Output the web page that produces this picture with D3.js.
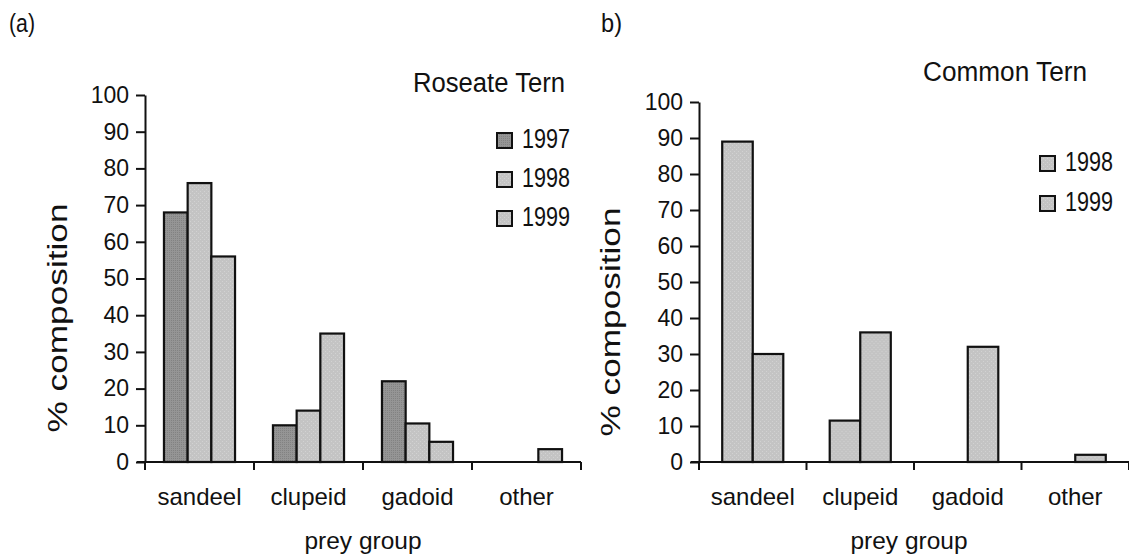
<!DOCTYPE html>
<html>
<head>
<meta charset="utf-8">
<script src="https://cdn.jsdelivr.net/npm/d3@7"></script>
<style>
  html, body { margin: 0; padding: 0; background: #fff; }
  svg { display: block; font-family: "Liberation Sans", Arial, sans-serif; }
</style>
</head>
<body>
<svg id="chart" width="1129" height="556"></svg>
<script>
// Diet composition of tern chicks by prey group
const categories = ["sandeel", "clupeid", "gadoid", "other"];
const yTicks = [0, 10, 20, 30, 40, 50, 60, 70, 80, 90, 100];

// Panel (a): Roseate Tern
const roseateYears = ["1997", "1998", "1999"];
const roseate1997 = [68, 10, 22, 0];
const roseate1998 = [76, 14, 10.5, 0];
const roseate1999 = [56, 35, 5.5, 3.5];

// Panel (b): Common Tern
const commonYears = ["1998", "1999"];
const common1998 = [89, 11.5, 0, 0];
const common1999 = [30, 36, 32, 2];

const svg = d3.select("#chart");
const defs = svg.append("defs");

// Hatched fills for the bars
function addPattern(id, base, mark, kind) {
  const p = defs.append("pattern")
    .attr("id", id).attr("patternUnits", "userSpaceOnUse")
    .attr("width", 4).attr("height", 4);
  p.append("rect").attr("width", 4).attr("height", 4).attr("fill", base);
  if (kind === "cross") {
    p.append("path").attr("d", "M0,0h1v1h-1zM2,2h1v1h-1zM2,0h1v1h-1zM0,2h1v1h-1z").attr("fill", mark);
  } else {
    p.append("path").attr("d", "M1,1h1v1h-1zM3,3h1v1h-1z").attr("fill", mark);
  }
}
addPattern("fillDark", "#959595", "#828282", "cross");
addPattern("fillLight", "#c4c4c4", "#d2d2d2", "dots");

const fillFor = { "1997": "url(#fillDark)", "1998": "url(#fillLight)", "1999": "url(#fillLight)" };

function drawPanel(opts) {
  const g = svg.append("g");
  const x0 = d3.scaleBand().domain(categories).range(opts.xRange).padding(0);
  const x1 = d3.scaleBand().domain(opts.years).range([0, x0.bandwidth()])
    .paddingInner(0).paddingOuter(opts.outerPad);
  const y = d3.scaleLinear().domain([0, 100]).range(opts.yRange);

  const rows = categories.map((c, i) => ({
    cat: c,
    vals: opts.years.map((yr, j) => ({ year: yr, value: opts.series[j][i] }))
  }));

  // bars
  g.selectAll("g.grp").data(rows).join("g")
    .attr("class", "grp")
    .attr("transform", d => `translate(${x0(d.cat)},0)`)
    .selectAll("rect").data(d => d.vals.filter(v => v.value > 0)).join("rect")
    .attr("x", d => x1(d.year))
    .attr("width", x1.bandwidth())
    .attr("y", d => y(d.value))
    .attr("height", d => y(0) - y(d.value))
    .attr("fill", d => fillFor[d.year])
    .attr("stroke", "#111")
    .attr("stroke-width", 2.2);

  // y axis
  const yAxis = g.append("g")
    .attr("transform", `translate(${opts.xRange[0]},0)`)
    .call(d3.axisLeft(y).tickValues(yTicks).tickSize(9).tickSizeOuter(0).tickPadding(7));
  yAxis.select(".domain").attr("stroke", "#111").attr("stroke-width", 2);
  yAxis.selectAll(".tick line").attr("stroke", "#111").attr("stroke-width", 2);
  yAxis.selectAll(".tick text").attr("font-size", 23).attr("fill", "#111")
    .attr("font-family", "'Liberation Sans', Arial, sans-serif");

  // x axis: boundary ticks and category labels
  const xAxis = g.append("g")
    .attr("transform", `translate(0,${y(0)})`)
    .call(d3.axisBottom(x0).tickSize(0).tickPadding(26));
  xAxis.select(".domain").remove();
  xAxis.selectAll(".tick text").attr("font-size", 24).attr("fill", "#111")
    .attr("font-family", "'Liberation Sans', Arial, sans-serif");
  g.append("line")
    .attr("x1", opts.xRange[0] - 8).attr("x2", opts.xRange[1])
    .attr("y1", y(0)).attr("y2", y(0))
    .attr("stroke", "#111").attr("stroke-width", 2);
  const bounds = categories.map(c => x0(c)).concat([opts.xRange[1]]);
  g.selectAll("line.xt").data(bounds).join("line")
    .attr("class", "xt")
    .attr("x1", d => d).attr("x2", d => d)
    .attr("y1", y(0)).attr("y2", y(0) + 8)
    .attr("stroke", "#111").attr("stroke-width", 2);

  // axis titles
  g.append("text")
    .attr("x", (opts.xRange[0] + opts.xRange[1]) / 2 + opts.xTitleShift)
    .attr("y", 549)
    .attr("text-anchor", "middle")
    .attr("font-size", 24).attr("fill", "#111")
    .attr("textLength", 117).attr("lengthAdjust", "spacingAndGlyphs")
    .text("prey group");
  g.append("text")
    .attr("transform", `translate(${opts.yTitleX},${opts.yTitleY}) rotate(-90)`)
    .attr("text-anchor", "middle")
    .attr("font-size", 27).attr("fill", "#111")
    .attr("textLength", 229).attr("lengthAdjust", "spacingAndGlyphs")
    .text("% composition");

  // panel title
  g.append("text")
    .attr("x", opts.titleX).attr("y", opts.titleY)
    .attr("font-size", 27).attr("fill", "#111")
    .attr("textLength", opts.titleLen).attr("lengthAdjust", "spacingAndGlyphs")
    .text(opts.title);

  // legend
  const leg = g.selectAll("g.leg").data(opts.years).join("g")
    .attr("class", "leg")
    .attr("transform", (d, i) => `translate(${opts.legX},${opts.legY + i * opts.legStep})`);
  leg.append("rect")
    .attr("x", 0).attr("y", -15).attr("width", 15).attr("height", 15)
    .attr("fill", d => fillFor[d])
    .attr("stroke", "#111").attr("stroke-width", 2);
  leg.append("text")
    .attr("x", 25).attr("y", 0)
    .attr("font-size", 27).attr("fill", "#111")
    .attr("textLength", 48).attr("lengthAdjust", "spacingAndGlyphs")
    .text(d => d);

  // panel tag
  g.append("text")
    .attr("x", opts.tagX).attr("y", 32)
    .attr("font-size", 25).attr("fill", "#111")
    .attr("textLength", opts.tagLen).attr("lengthAdjust", "spacingAndGlyphs")
    .text(opts.tag);
}

drawPanel({
  series: [roseate1997, roseate1998, roseate1999],
  years: roseateYears,
  xRange: [145, 581],
  yRange: [462, 95],
  outerPad: 0.8,
  xTitleShift: 0,
  yTitleX: 67, yTitleY: 318,
  title: "Roseate Tern", titleX: 413, titleY: 92, titleLen: 152,
  legX: 497, legY: 148, legStep: 39,
  tag: "(a)", tagX: 9, tagLen: 26
});

drawPanel({
  series: [common1998, common1999],
  years: commonYears,
  xRange: [699, 1129],
  yRange: [462, 102],
  outerPad: 0.76,
  xTitleShift: -5,
  yTitleX: 620, yTitleY: 322,
  title: "Common Tern", titleX: 923, titleY: 81, titleLen: 164,
  legX: 1040, legY: 171, legStep: 40,
  tag: "b)", tagX: 601, tagLen: 21
});
</script>
</body>
</html>
